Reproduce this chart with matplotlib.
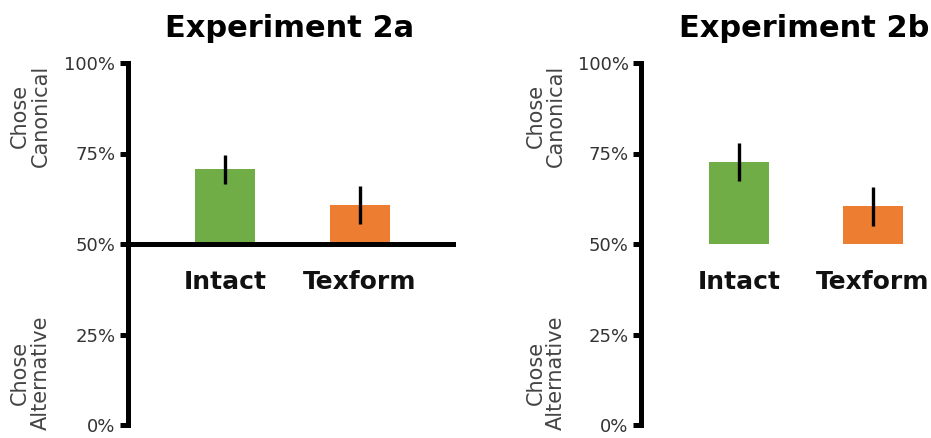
import matplotlib.pyplot as plt

# valores (porcentaje que eligio la forma canonica)
categorias = ["Intact", "Texform"]
colores = ["#70AD47", "#ED7D31"]
titulos = ["Experiment 2a", "Experiment 2b"]
medias_2a = [70.7, 60.8]
errores_2a = [4.0, 5.2]
medias_2b = [72.6, 60.4]
errores_2b = [5.2, 5.3]

ticks_y = [0, 25, 50, 75, 100]
etiquetas_y = ["0%", "25%", "50%", "75%", "100%"]

fig = plt.figure(figsize=(9.31, 4.38), dpi=100)
ax1 = fig.add_axes([128 / 931, 13 / 438, 325 / 931, 362 / 438])
ax2 = fig.add_axes([641 / 931, 13 / 438, 289 / 931, 362 / 438])


def dibujar_panel(ax, medias, errores, titulo, xlim, linea_base, x_rotulo, x_titulo):
    x = list(range(len(categorias)))
    ax.bar(x, [m - 50 for m in medias], bottom=50, width=0.444, color=colores, zorder=2)
    ax.errorbar(x, medias, yerr=errores, fmt="none", ecolor="black",
                elinewidth=2.4, capsize=0, zorder=3)
    ax.set_xlim(*xlim)
    ax.set_ylim(0, 100)

    for lado in ["top", "right"]:
        ax.spines[lado].set_visible(False)
    ax.spines["left"].set_linewidth(3.6)
    ax.spines["left"].set_bounds(0, 100)
    if linea_base:
        ax.spines["bottom"].set_position(("data", 50))
        ax.spines["bottom"].set_linewidth(3.6)
        ax.spines["bottom"].set_zorder(4)
    else:
        ax.spines["bottom"].set_visible(False)
    ax.set_xticks([])
    ax.set_yticks(ticks_y)
    ax.set_yticklabels(etiquetas_y, fontsize=13, color="#333333")
    ax.tick_params(axis="y", direction="out", length=6, width=3.6, pad=3)
    ax.patch.set_visible(False)

    for xi, nombre in zip(x, categorias):
        ax.text(xi, 39.5, nombre, ha="center", va="center", fontsize=18,
                fontweight="bold", color="#111111")

    # titulo: linea base ~26 px por encima del eje (x en datos)
    ax.text(x_titulo, 1.072, titulo, transform=ax.get_xaxis_transform(),
            ha="center", va="baseline", fontsize=22, fontweight="bold")

    # rotulos de los extremos del eje
    trans = ax.get_yaxis_transform()
    ax.text(x_rotulo, 85.5, "Chose\nCanonical", transform=trans,
            rotation=90, ha="center", va="center", fontsize=15, color="#444444",
            linespacing=1.05)
    ax.text(x_rotulo, 14.5, "Chose\nAlternative", transform=trans,
            rotation=90, ha="center", va="center", fontsize=15, color="#444444",
            linespacing=1.05)


dibujar_panel(ax1, medias_2a, errores_2a, titulos[0], (-0.719, 1.688), True, -0.30, 0.48)
dibujar_panel(ax2, medias_2b, errores_2b, titulos[1], (-0.731, 1.426), False, -0.329, 0.485)

fig.savefig("out.png", dpi=100)
